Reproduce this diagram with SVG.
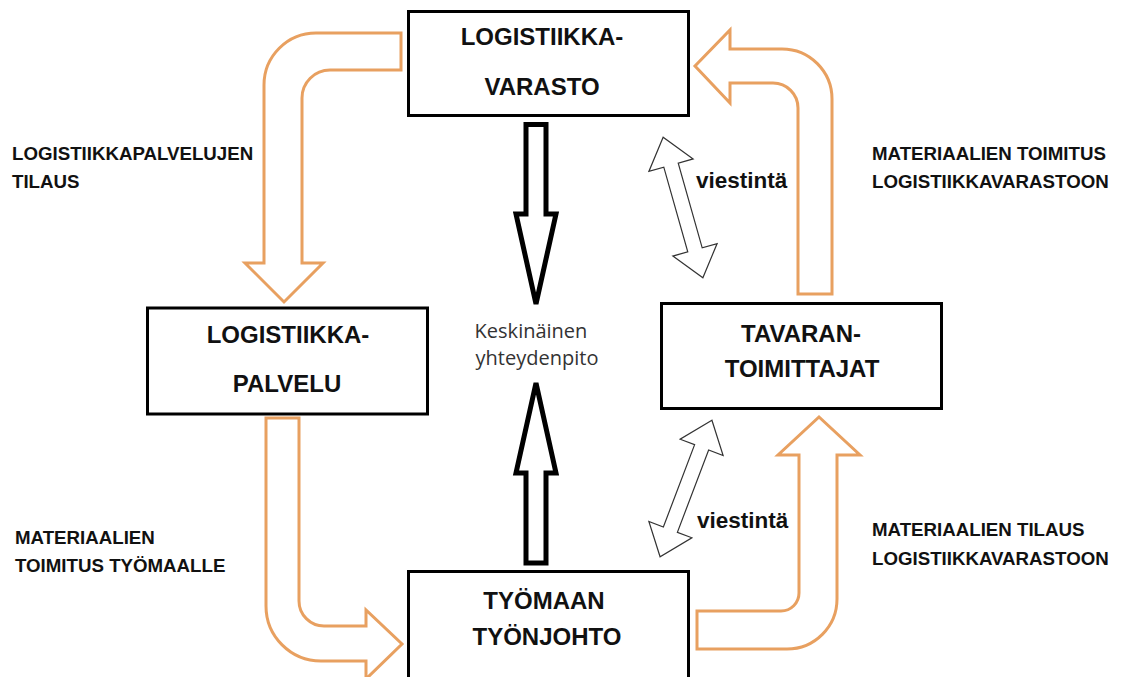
<svg xmlns="http://www.w3.org/2000/svg" width="1141" height="677" viewBox="0 0 1141 677">
<defs>
<style>
.box{fill:#fff;stroke:#000;stroke-width:3}
.bt{font-family:"Liberation Sans",Arial,sans-serif;font-weight:bold;font-size:24px;fill:#111;text-anchor:middle}
.lb{font-family:"Liberation Sans",Arial,sans-serif;font-weight:bold;font-size:18.7px;fill:#111}
.vi{font-family:"Liberation Sans",Arial,sans-serif;font-weight:bold;font-size:22.5px;fill:#111}
.ks{font-family:"Open Sans","Liberation Sans",sans-serif;font-size:20px;fill:#333;text-anchor:middle}
.orange{fill:#fff;stroke:#e8a060;stroke-width:3;stroke-linejoin:miter}
.black{fill:#fff;stroke:#000;stroke-width:5;stroke-linejoin:miter}
.dbl{fill:#fff;stroke:#333;stroke-width:1.2;stroke-linejoin:miter}
</style>
<polygon id="dblShape" points="0,-73 -23,-44 -7.5,-44 -7.5,44 -23,44 0,73 23,44 7.5,44 7.5,-44 23,-44"/>
</defs>
<rect width="1141" height="677" fill="#fff"/>
<g id="connectors">
<path class="orange" d="M 401,33 L 316,33 A 52 52 0 0 0 264,85 L 264,263 L 245,263 L 284,302 L 323,263 L 302,263 L 302,98 A 28 28 0 0 1 330,70 L 401,70 Z"/>
<path class="orange" d="M 798,294 L 798,108 A 25 25 0 0 0 773,83 L 730,83 L 730,103 L 695,66 L 730,30 L 730,49 L 782,49 A 50 50 0 0 1 832,99 L 832,294 Z"/>
<path class="orange" d="M 266,418 L 299,418 L 299,601 A 25 25 0 0 0 324,626 L 366,626 L 366,610 L 402,644 L 366,679 L 366,661 L 321,661 A 55 55 0 0 1 266,606 Z"/>
<path class="orange" d="M 697,611 L 781,611 A 18 18 0 0 0 799,593 L 799,455 L 778,455 L 819,417 L 860,455 L 837,455 L 837,599 A 50 50 0 0 1 787,649 L 697,649 Z"/>
<polygon class="black" points="526,124.5 546,124.5 546,214 556,214 536,304 516,214 526,214"/>
<polygon class="black" points="526,563 546,563 546,473 556,473 536,383 516,473 526,473"/>
<use href="#dblShape" class="dbl" transform="translate(683,207.5) rotate(-15.8)"/>
<use href="#dblShape" class="dbl" transform="translate(686,488.5) rotate(20.8)"/>
</g>
<g id="node-varasto">
<rect class="box" x="408.5" y="11.5" width="280" height="104"/>
<text class="bt" x="542" y="45">LOGISTIIKKA-</text>
<text class="bt" x="542" y="95">VARASTO</text>
</g>
<g id="node-palvelu">
<rect class="box" x="147.5" y="308" width="280" height="106"/>
<text class="bt" x="288" y="343">LOGISTIIKKA-</text>
<text class="bt" x="287" y="392">PALVELU</text>
</g>
<g id="node-tavaran">
<rect class="box" x="661.5" y="303.5" width="280" height="105"/>
<text class="bt" x="801" y="342">TAVARAN-</text>
<text class="bt" x="802" y="377">TOIMITTAJAT</text>
</g>
<g id="node-tyomaan">
<rect class="box" x="408.5" y="571.5" width="280" height="110"/>
<text class="bt" x="544" y="609">TYÖMAAN</text>
<text class="bt" x="547" y="645">TYÖNJOHTO</text>
</g>
<g id="labels">
<text class="lb" x="12" y="160">LOGISTIIKKAPALVELUJEN</text>
<text class="lb" x="12" y="188">TILAUS</text>
<text class="lb" x="872" y="160">MATERIAALIEN TOIMITUS</text>
<text class="lb" x="872" y="188">LOGISTIIKKAVARASTOON</text>
<text class="lb" x="15" y="544">MATERIAALIEN</text>
<text class="lb" x="15" y="572">TOIMITUS TYÖMAALLE</text>
<text class="lb" x="872" y="536">MATERIAALIEN TILAUS</text>
<text class="lb" x="872" y="565">LOGISTIIKKAVARASTOON</text>
<text class="vi" x="696" y="188">viestintä</text>
<text class="vi" x="697" y="528">viestintä</text>
<text class="ks" x="531" y="338">Keskinäinen</text>
<text class="ks" x="537" y="365">yhteydenpito</text>
</g>
</svg>
